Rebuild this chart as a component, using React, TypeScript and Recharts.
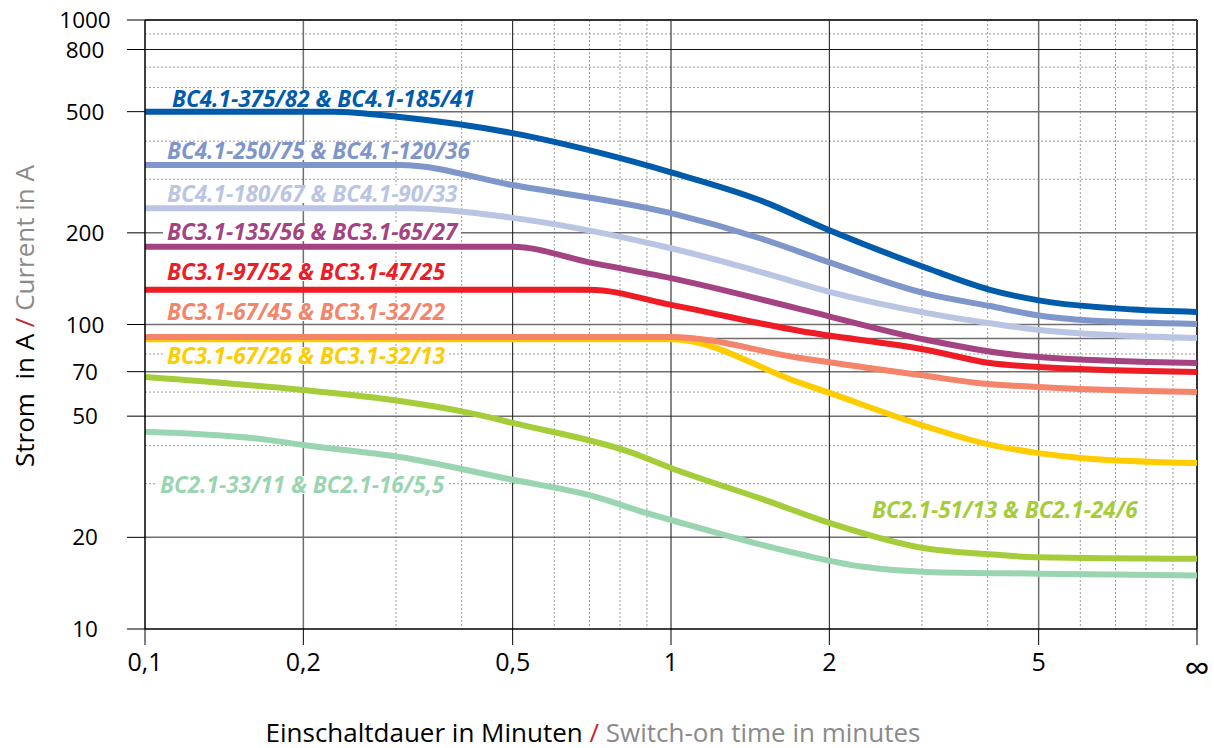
import { LineChart, Line, XAxis, YAxis, CartesianGrid } from 'recharts'

type Pt = { t: number; a: number }

// axis ticks
const X_TICKS = [0.1, 0.2, 0.5, 1, 2, 5, 10]
const Y_TICKS = [10, 20, 50, 70, 100, 200, 500, 800, 1000]

// grid lines
const X_MINOR = [0.3, 0.4, 0.6, 0.7, 0.8, 0.9, 3, 4, 6, 7, 8, 9]
const Y_MINOR = [30, 40, 60, 80, 300, 400, 600, 700, 900]
const X_GRAY = [0.2, 5]
const Y_GRAY = [20, 50, 70, 90, 100, 200, 500]
const X_BLACK = [0.5, 1, 2]
const Y_BLACK = [800]

// current in A over switch-on time in minutes (10 = ∞)
const bc41_375: Pt[] = [
  { t: 0.1, a: 500 }, { t: 0.228, a: 500 }, { t: 0.305, a: 480 }, { t: 0.5, a: 425 },
  { t: 0.733, a: 366 }, { t: 1, a: 316 }, { t: 1.476, a: 256 }, { t: 2, a: 204 },
  { t: 3.07, a: 153 }, { t: 4.04, a: 130 }, { t: 5, a: 120 },
  { t: 7.56, a: 112 }, { t: 10, a: 110 },
]
const bc41_250: Pt[] = [
  { t: 0.1, a: 334 }, { t: 0.305, a: 334 }, { t: 0.5, a: 287 }, { t: 1, a: 232 },
  { t: 1.476, a: 192 }, { t: 2, a: 160 }, { t: 3.07, a: 126 }, { t: 4.04, a: 115 },
  { t: 5, a: 107 }, { t: 6.26, a: 103 }, { t: 10, a: 100.4 },
]
const bc41_180: Pt[] = [
  { t: 0.1, a: 241 }, { t: 0.32, a: 241 }, { t: 0.5, a: 224 }, { t: 1, a: 178 },
  { t: 1.476, a: 149 }, { t: 2, a: 128 }, { t: 3.07, a: 109 }, { t: 4.04, a: 101 },
  { t: 5, a: 96 }, { t: 10, a: 90.3 },
]
const bc31_135: Pt[] = [
  { t: 0.1, a: 180 }, { t: 0.5, a: 180 }, { t: 0.7, a: 160 }, { t: 1, a: 142 },
  { t: 1.76, a: 112.4 }, { t: 3.07, a: 88.9 }, { t: 4.22, a: 80.6 }, { t: 5, a: 78.2 },
  { t: 10, a: 74.7 },
]
const bc31_97: Pt[] = [
  { t: 0.1, a: 130 }, { t: 0.7, a: 130 }, { t: 1, a: 116 }, { t: 1.76, a: 95.2 },
  { t: 3.07, a: 82.5 }, { t: 4.04, a: 74.7 }, { t: 5, a: 72.5 }, { t: 10, a: 69.8 },
]
const bc31_67_45: Pt[] = [
  { t: 0.1, a: 91 }, { t: 1, a: 91 }, { t: 1.76, a: 77.6 }, { t: 3.07, a: 67.7 },
  { t: 3.82, a: 64.3 }, { t: 5, a: 62.3 }, { t: 10, a: 60 },
]
const bc31_67_26: Pt[] = [
  { t: 0.1, a: 89.5 }, { t: 1, a: 89.5 }, { t: 1.76, a: 64.3 }, { t: 2, a: 59.6 },
  { t: 3.07, a: 46.1 }, { t: 3.92, a: 40.8 }, { t: 5, a: 37.8 }, { t: 6.07, a: 36.4 },
  { t: 10, a: 35.1 },
]
const bc21_51: Pt[] = [
  { t: 0.1, a: 67.2 }, { t: 0.2, a: 60.9 }, { t: 0.305, a: 56.1 }, { t: 0.433, a: 50.4 },
  { t: 0.5, a: 47.5 }, { t: 0.847, a: 37.8 }, { t: 1, a: 33.8 }, { t: 1.52, a: 26.4 },
  { t: 2, a: 22.3 }, { t: 2.94, a: 18.6 }, { t: 4.22, a: 17.5 }, { t: 5, a: 17.2 },
  { t: 10, a: 17 },
]
const bc21_33: Pt[] = [
  { t: 0.1, a: 44.4 }, { t: 0.171, a: 41.8 }, { t: 0.2, a: 40.2 }, { t: 0.305, a: 36.7 },
  { t: 0.5, a: 30.9 }, { t: 0.7, a: 27.5 }, { t: 0.9, a: 24 }, { t: 1, a: 22.8 },
  { t: 1.76, a: 17.6 }, { t: 2.32, a: 16 }, { t: 3.07, a: 15.4 }, { t: 5, a: 15.2 },
  { t: 10, a: 15 },
]

// drawing order: bottom first
const SERIES = [
  { key: 'bc21_33', data: bc21_33, color: '#9AD5B1' },
  { key: 'bc21_51', data: bc21_51, color: '#A5CD39' },
  { key: 'bc31_67_26', data: bc31_67_26, color: '#FFCC00' },
  { key: 'bc31_67_45', data: bc31_67_45, color: '#F4846A' },
  { key: 'bc31_97', data: bc31_97, color: '#EE1C25' },
  { key: 'bc31_135', data: bc31_135, color: '#A34382' },
  { key: 'bc41_180', data: bc41_180, color: '#BAC5E4' },
  { key: 'bc41_250', data: bc41_250, color: '#7F96CA' },
  { key: 'bc41_375', data: bc41_375, color: '#005BAA' },
]

const LABELS = [
  { text: 'BC4.1-375/82 & BC4.1-185/41', color: '#005BAA', left: 168, top: 99 },
  { text: 'BC4.1-250/75 & BC4.1-120/36', color: '#7F96CA', left: 163, top: 151 },
  { text: 'BC4.1-180/67 & BC4.1-90/33', color: '#BAC5E4', left: 163, top: 194 },
  { text: 'BC3.1-135/56 & BC3.1-65/27', color: '#A34382', left: 163, top: 232 },
  { text: 'BC3.1-97/52 & BC3.1-47/25', color: '#EE1C25', left: 163, top: 272 },
  { text: 'BC3.1-67/45 & BC3.1-32/22', color: '#F4846A', left: 163, top: 312 },
  { text: 'BC3.1-67/26 & BC3.1-32/13', color: '#FFCC00', left: 163, top: 356 },
  { text: 'BC2.1-33/11 & BC2.1-16/5,5', color: '#9AD5B1', left: 156, top: 485 },
  { text: 'BC2.1-51/13 & BC2.1-24/6', color: '#A5CD39', left: 868, top: 510 },
]

const FONT = '"Open Sans", "Noto Sans", sans-serif'

function XTick(props: any) {
  const { x, y, payload } = props
  const v = payload.value as number
  const inf = v === 10
  return (
    <text
      x={x} y={y + (inf ? 2 : 0)} dy="0.71em" textAnchor="middle"
      fontFamily={FONT} fontSize={inf ? 36 : 25} fill="#000"
    >
      {inf ? '∞' : String(v).replace('.', ',')}
    </text>
  )
}

function YTick(props: any) {
  const { y, payload } = props
  return (
    <text x={85} y={y} dy="0.36em" textAnchor="middle" fontFamily={FONT} fontSize={22.5} fill="#000">
      {payload.value}
    </text>
  )
}

export default function App() {
  return (
    <div style={{ position: 'absolute', left: 0, top: 0, width: 1214, height: 748, background: '#fff', fontFamily: FONT }}>
      <LineChart width={1214} height={748} margin={{ top: 20, right: 17, bottom: 79, left: 0 }}>
        <CartesianGrid horizontalValues={Y_MINOR} verticalValues={X_MINOR} stroke="#9a9a9a" strokeDasharray="2 2" />
        <CartesianGrid horizontalValues={Y_GRAY} verticalValues={X_GRAY} stroke="#6f6f6f" strokeWidth={1.5} />
        <CartesianGrid horizontalValues={Y_BLACK} verticalValues={X_BLACK} stroke="#111" />
        <CartesianGrid horizontalValues={[1000]} verticalValues={[10]} stroke="#333" strokeWidth={2} />
        <XAxis
          dataKey="t" type="number" scale="log" domain={[0.1, 10]} ticks={X_TICKS} interval={0}
          allowDataOverflow height={40} tickSize={16} tickMargin={8} tick={<XTick />}
          axisLine={{ stroke: '#000', strokeWidth: 1.5 }} tickLine={{ stroke: '#000' }}
        />
        <YAxis
          type="number" scale="log" domain={[10, 1000]} ticks={Y_TICKS} interval={0}
          allowDataOverflow width={145} tickSize={18} tickMargin={14} tick={<YTick />}
          axisLine={{ stroke: '#000', strokeWidth: 1.5 }} tickLine={{ stroke: '#000' }}
        />
        {SERIES.map((s) => (
          <Line
            key={s.key} data={s.data} dataKey="a" type="monotone" stroke={s.color}
            strokeWidth={6} dot={false} activeDot={false} isAnimationActive={false}
          />
        ))}
      </LineChart>

      {LABELS.map((l) => (
        <div
          key={l.text}
          style={{
            position: 'absolute', left: l.left, top: l.top, transform: 'translateY(-50%)',
            background: '#fff', color: l.color, fontWeight: 700, fontStyle: 'italic',
            fontSize: 22.5, lineHeight: '18px', padding: '0 4px', whiteSpace: 'nowrap',
          }}
        >
          {l.text}
        </div>
      ))}

      <div
        style={{
          position: 'absolute', left: 24, top: 316, transform: 'translate(-50%, -50%) rotate(-90deg)',
          fontSize: 26, lineHeight: '28px', whiteSpace: 'pre', color: '#000',
        }}
      >
        Strom  in A <span style={{ color: '#C0282D' }}>/</span> <span style={{ color: '#8a8a8a' }}>Current in A</span>
      </div>

      <div
        style={{
          position: 'absolute', left: 593, top: 732, transform: 'translate(-50%, -50%)',
          fontSize: 26, lineHeight: '28px', whiteSpace: 'nowrap', color: '#000',
        }}
      >
        Einschaltdauer in Minuten <span style={{ color: '#C0282D' }}>/</span>{' '}
        <span style={{ color: '#8a8a8a' }}>Switch-on time in minutes</span>
      </div>
    </div>
  )
}
